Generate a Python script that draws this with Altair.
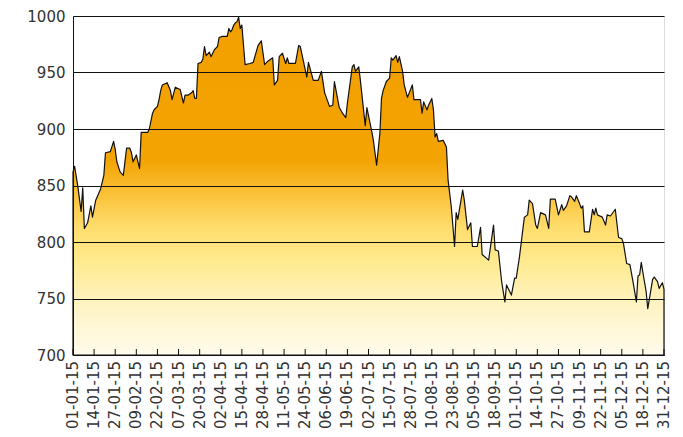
import altair as alt
import pandas as pd

# Day offsets from 1 Jan 2015 and index values
day_of_year = [0, 1, 3, 5, 6, 7, 9, 11, 12, 14, 17, 19, 20, 23, 25, 26, 27, 29, 31, 33,
               35, 36, 37, 39, 40, 41, 42, 44, 46, 47, 49, 50, 52, 53, 54, 55, 58, 60, 61, 63,
               66, 68, 69, 71, 73, 74, 75, 76, 77, 79, 80, 81, 82, 84, 85, 87, 89, 90, 92, 95,
               96, 97, 98, 99, 100, 101, 102, 103, 104, 106, 109, 111, 114, 116, 118, 120, 123, 124, 126, 127,
               129, 131, 132, 133, 137, 139, 140, 144, 145, 148, 151, 153, 155, 158, 160, 161, 164, 166, 168, 169,
               172, 173, 174, 176, 177, 180, 181, 184, 185, 187, 189, 190, 191, 193, 195, 196, 197, 199, 200, 201,
               203, 204, 206, 209, 210, 212, 214, 215, 216, 218, 219, 221, 222, 223, 224, 225, 228, 230, 231, 233,
               235, 236, 237, 240, 241, 243, 245, 246, 249, 251, 252, 256, 259, 260, 262, 264, 266, 267, 270, 272,
               273, 275, 278, 280, 281, 283, 285, 286, 288, 291, 293, 294, 297, 299, 301, 302, 304, 306, 307, 309,
               310, 312, 313, 314, 315, 318, 320, 321, 322, 323, 326, 328, 329, 331, 334, 336, 338, 339, 341, 343,
               345, 347, 348, 349, 350, 351, 353, 354, 357, 358, 360, 361, 363, 364]
values = [862, 867, 849, 827, 848, 812, 817, 832, 822, 837, 847, 859, 879, 880, 889, 882, 871, 862, 859, 883,
          883, 879, 871, 877, 871, 865, 897, 897, 897, 900, 914, 917, 920, 926, 934, 939, 941, 934, 926, 937,
          935, 923, 930, 930, 932, 934, 927, 927, 958, 959, 962, 973, 965, 968, 964, 970, 973, 981, 982, 982,
          989, 986, 988, 992, 994, 995, 999, 989, 992, 957, 958, 959, 974, 978, 957, 960, 963, 939, 943, 964,
          967, 958, 963, 958, 958, 974, 973, 946, 959, 943, 943, 951, 932, 920, 921, 942, 919, 914, 910, 923,
          955, 957, 951, 955, 943, 903, 919, 898, 890, 868, 896, 927, 934, 942, 945, 963, 961, 965, 959, 964,
          951, 939, 928, 939, 926, 926, 926, 914, 924, 917, 921, 927, 917, 893, 896, 889, 890, 884, 855, 831,
          796, 826, 820, 846, 837, 811, 817, 796, 796, 813, 789, 784, 815, 793, 792, 765, 747, 762, 753, 768,
          768, 787, 822, 824, 837, 834, 815, 812, 826, 824, 812, 838, 838, 824, 833, 828, 832, 841, 840, 836,
          841, 834, 830, 832, 809, 809, 829, 824, 830, 824, 822, 815, 824, 823, 829, 804, 803, 799, 781, 780,
          764, 747, 770, 771, 782, 773, 756, 741, 767, 769, 765, 759, 764, 758]

tick_labels = ["01-01-15", "14-01-15", "27-01-15", "09-02-15", "22-02-15", "07-03-15", "20-03-15",
               "02-04-15", "15-04-15", "28-04-15", "11-05-15", "24-05-15", "06-06-15", "19-06-15",
               "02-07-15", "15-07-15", "28-07-15", "10-08-15", "23-08-15", "05-09-15", "18-09-15",
               "01-10-15", "14-10-15", "27-10-15", "09-11-15", "22-11-15", "05-12-15", "18-12-15",
               "31-12-15"]
y_ticks = [700, 750, 800, 850, 900, 950, 1000]

start = pd.Timestamp("2015-01-01", tz="UTC")
df = pd.DataFrame({
    "date": [(start + pd.Timedelta(days=d)).strftime("%Y-%m-%dT00:00:00Z") for d in day_of_year],
    "value": values,
})
tick_dates = pd.to_datetime(tick_labels, format="%d-%m-%y").tz_localize("UTC")
tick_ms = [int(t.value // 10**6) for t in tick_dates]
ticks_df = pd.DataFrame({
    "date": [t.strftime("%Y-%m-%dT00:00:00Z") for t in tick_dates],
    "label": tick_labels,
})

FONT = "DejaVu Sans"
TEXT_COLOR = "#333333"

xscale = alt.Scale(type="utc", domain=[tick_ms[0], tick_ms[-1]], nice=False)

gradient = alt.Gradient(
    gradient="linear",
    x1=1, x2=1, y1=0, y2=1,
    stops=[
        alt.GradientStop(color="#F2A000", offset=0.0),
        alt.GradientStop(color="#F3A302", offset=0.42),
        alt.GradientStop(color="#FAC036", offset=0.52),
        alt.GradientStop(color="#FFDD6C", offset=0.62),
        alt.GradientStop(color="#FFEA8E", offset=0.72),
        alt.GradientStop(color="#FFF4C6", offset=0.86),
        alt.GradientStop(color="#FFFBEC", offset=1.0),
    ],
)

area = alt.Chart(df).mark_area(
    fill=gradient, stroke="#111111", strokeWidth=1.2, strokeJoin="round"
).encode(
    x=alt.X("date:T", scale=xscale,
            axis=alt.Axis(values=tick_ms, labels=False, title=None,
                          ticks=False, grid=False, domainColor="#111111",
                          domainWidth=1)),
    y=alt.Y("value:Q", scale=alt.Scale(domain=[700, 1000], nice=False, zero=False),
            axis=alt.Axis(values=y_ticks, format="d", title=None, ticks=False, grid=True,
                          gridColor="#111111", gridWidth=1, domainColor="#111111",
                          domainWidth=1, labelPadding=8, labelFont=FONT, labelFontSize=15,
                          labelColor=TEXT_COLOR, zindex=1)),
    y2=alt.datum(700),
)

tick_marks = alt.Chart(ticks_df).mark_rule(color="#111111", strokeWidth=1).encode(
    x=alt.X("date:T", scale=xscale),
    y=alt.value(333),
    y2=alt.value(339),
)

tick_text = alt.Chart(ticks_df).mark_text(
    angle=270, align="right", baseline="middle", font=FONT, fontSize=15, color=TEXT_COLOR
).encode(
    x=alt.X("date:T", scale=xscale),
    y=alt.value(345),
    text="label:N",
)

chart = alt.layer(area, tick_marks, tick_text).properties(
    width=591,
    height=339,
    autosize=alt.AutoSizeParams(type="none"),
    padding={"left": 65, "top": 8, "right": 11, "bottom": 74},
).configure_view(stroke=None).configure(background="white")

chart.save("out.html", embed_options={"renderer": "svg", "actions": False})
